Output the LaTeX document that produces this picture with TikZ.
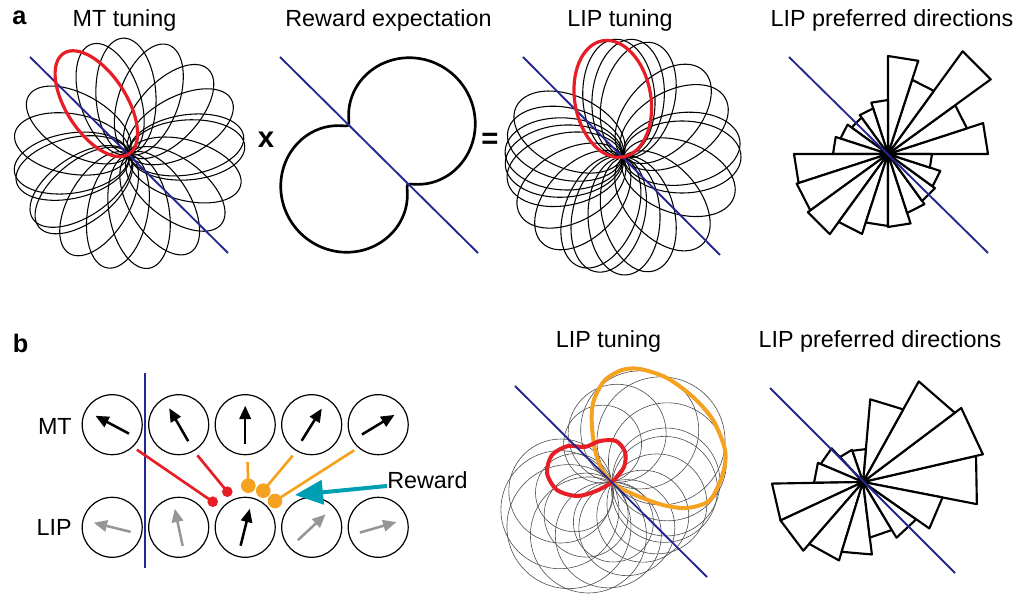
\documentclass[tikz,border=0pt]{standalone}
\usepackage{fontspec}
\setmainfont{Liberation Sans}
\usetikzlibrary{arrows.meta}
\definecolor{navy}{RGB}{38,40,145}
\definecolor{redc}{RGB}{232,30,38}
\definecolor{orangec}{RGB}{245,162,32}
\definecolor{tealc}{RGB}{0,158,178}
\definecolor{grayc}{RGB}{150,150,153}
\begin{document}
\begin{tikzpicture}[x=0.75pt,y=0.75pt,
  lobe/.style={draw=black, line width=0.8pt},
  redlobe/.style={draw=redc, line width=2.4pt},
  thinlobe/.style={draw=black!70, line width=0.45pt},
  blueline/.style={draw=navy, line width=1.4pt},
  peanut/.style={draw=black, line width=2pt},
  wedge/.style={draw=black, line width=1.6pt, line join=round, fill=white},
  title/.style={font=\fontsize{17.5}{20}\selectfont, inner sep=0pt, anchor=base},
  txt/.style={font=\fontsize{17.5}{20}\selectfont, inner sep=0pt},
  panel/.style={font=\fontsize{19}{22}\selectfont\bfseries, inner sep=0pt, anchor=base},
  op/.style={font=\fontsize{22}{24}\selectfont\bfseries, inner sep=0pt},
  neuron/.style={circle, draw=black, line width=0.9pt, minimum size=45pt, inner sep=0pt},
  narrow/.style={line width=1.9pt, -{Triangle[length=10pt,width=8.5pt]}},
  rline/.style={draw=redc, line width=2pt},
  oline/.style={draw=orangec, line width=2pt},
  rdot/.style={circle, fill=redc, inner sep=0pt, minimum size=8pt},
  odot/.style={circle, fill=orangec, inner sep=0pt, minimum size=11pt}
]
\useasboundingbox (0,0) rectangle (1026,-598);

% ---------- panel labels and titles
\node[panel] (pa) at (19.5,-25) {a};
\node[panel] (pb) at (20.5,-353) {b};
\node[title] (t1) at (124.5,-27) {MT tuning};
\node[title] (t2) at (388.5,-27) {Reward expectation};
\node[title] (t3) at (620,-27) {LIP tuning};
\node[title] (t4) at (892,-27) {LIP preferred directions};
\node[title] (t5) at (608.5,-348) {LIP tuning};
\node[title] (t6) at (880,-348) {LIP preferred directions};
\node[op] (times) at (266,-140) {x};
\node[op] (eq) at (490,-141) {=};

% ---------- MT tuning (a)
\begin{scope}[shift={(129,-154)}]
  \foreach \t in {109,93,70,47,28,9,4,-16,-37,-58,-80,-101,-121,-141,-146,-166,-171,170,150}
    \draw[lobe, rotate=\t] (58,0) ellipse (58 and 30);
\end{scope}
\draw[blueline] (30,-57) -- (228,-253);
\begin{scope}[shift={(129,-154)}]
  \draw[redlobe, rotate=123] (60,0) ellipse (60 and 30);
\end{scope}

% ---------- Reward expectation (a)
\begin{scope}[shift={(378,-155)}]
  \draw[peanut] plot[smooth cycle, domain=0:357, samples=120] (\x:{38+72*sqrt(pow(cos(\x-45),2)+0.003)});
\end{scope}
\draw[blueline] (280,-57) -- (478,-253);

% ---------- LIP tuning (a)
\begin{scope}[shift={(623,-157)}]
  \foreach \t in {94,85,75,47,30,8,0,-20,-48,-75,-89,-104,-112,-133,-151,-168,-176,177,167,155}
    \draw[lobe, rotate=\t] (59,0) ellipse (59 and 36);
\end{scope}
\draw[blueline] (523,-57) -- (720,-255);
\begin{scope}[shift={(623,-157)}]
  \draw[redlobe, rotate=100] (59,0) ellipse (59 and 38);
\end{scope}

% ---------- LIP preferred directions (a)
\begin{scope}[shift={(888,-154)}]
  \foreach \i/\l in {0/100,1/83,2/127,3/78,4/98,5/54,6/48,7/45,8/50,9/55,10/94,11/96,12/99,13/84,14/72,15/73,16/62,17/58,18/55,19/44}
    \draw[wedge] (0,0) -- ({\i*18}:\l) -- ({\i*18+18}:\l) -- cycle;
\end{scope}
\draw[blueline] (789,-57) -- (988,-253);

% ---------- network (b)
\foreach \i in {1,...,5} {
  \node[neuron] (mt\i) at ({112.2+66.5*(\i-1)},-424.7) {};
  \node[neuron] (lip\i) at ({112.2+66.5*(\i-1)},-527.3) {};
}
\node[txt, anchor=base east] (mtl) at (72,-435) {MT};
\node[txt, anchor=base east] (lipl) at (72,-536) {LIP};
\draw[navy, line width=2pt] (145,-373) -- (145,-568);

\foreach \i/\a in {1/152,2/120,3/90,4/58,5/31}
  \draw[narrow, black] ([shift={({\a+180}:19)}]mt\i.center) -- ([shift={(\a:19)}]mt\i.center);
\foreach \i/\a/\c in {1/166/grayc,2/102/grayc,3/76/black,4/43/grayc,5/16/grayc}
  \draw[narrow, \c] ([shift={({\a+180}:19)}]lip\i.center) -- ([shift={(\a:19)}]lip\i.center);

\coordinate (rd1) at (212.7,-501.7);
\coordinate (rd2) at (227.3,-491.7);
\coordinate (od1) at (248.3,-485.7);
\coordinate (od2) at (263.3,-490.7);
\coordinate (od3) at (275,-501);
\draw[rline, shorten <=3.5pt] (mt1.-47) -- (rd1);
\draw[rline, shorten <=4pt] (mt2.-60) -- (rd2);
\draw[oline, shorten <=5pt] (mt3.-86) -- (od1);
\draw[oline, shorten <=4.3pt] (mt4.-120) -- (od2);
\draw[oline, shorten <=3.5pt] (mt5.-131) -- (od3);
\node[rdot] (rdot1) at (rd1) {};
\node[rdot] (rdot2) at (rd2) {};
\node[odot] (odot1) at (od1) {};
\node[odot] (odot2) at (od2) {};
\node[odot] (odot3) at (od3) {};

\node[txt, anchor=base west] (rew) at (387,-489) {Reward};
\coordinate (rtip) at (295,-495);
\draw[tealc, line width=3pt, -{Triangle[length=21pt,width=18pt]}] ([yshift=-4pt]rew.west) -- (rtip);

% ---------- LIP tuning (b)
\begin{scope}[shift={(612,-482)}]
  \foreach \t/\d in {0/108,20/118,40/128,62/118,84/98,104/78,190/104,208/118,226/124,246/116,266/106,288/96,312/92,334/100,352/106,232/84,272/80,196/78}
    \draw[thinlobe] (\t:{\d/2}) circle ({\d/2});
\end{scope}
\draw[orangec, line width=3pt] plot[smooth cycle] coordinates {(612,-482) (602,-470) (595,-450) (592,-427) (592,-410) (595,-397) (605,-380) (622,-370) (640,-369) (667,-378) (693,-397) (713,-420) (725,-450) (723,-473) (710,-500) (687,-508) (663,-505) (640,-497) (620,-488)};
\draw[redc, line width=3pt] plot[smooth cycle] coordinates {(612,-482) (596,-491) (577,-496) (557,-490) (547,-473) (552,-455) (568,-446) (585,-447) (600,-441) (616,-441) (625,-452) (624,-467)};
\draw[blueline] (515,-386) -- (707,-577);

% ---------- LIP preferred directions (b)
\begin{scope}[shift={(863,-482)}]
  \foreach \i/\l in {0/116,1/123,2/115,3/83,4/33,5/34,6/46,7/49,8/91,9/91,10/82,11/73,12/56,13/65,14/81}
    \draw[wedge] (0,0) -- ({-11+\i*24}:\l) -- ({13+\i*24}:\l) -- cycle;
\end{scope}
\draw[blueline] (770,-388) -- (955,-573);
\end{tikzpicture}
\end{document}
